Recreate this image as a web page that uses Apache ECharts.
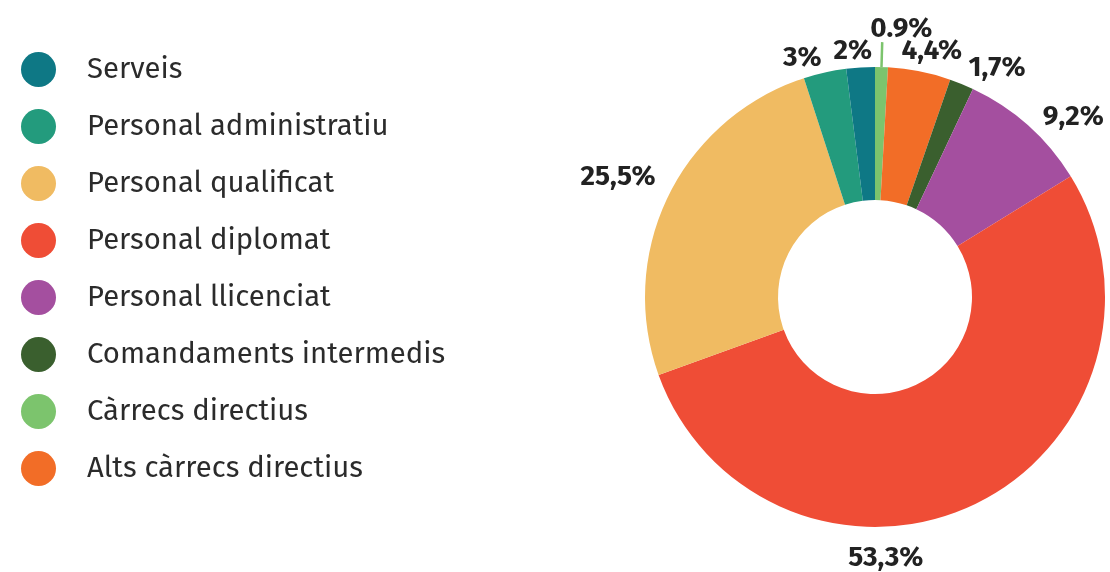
<!DOCTYPE html>
<html>
<head>
<meta charset="utf-8">
<script src="https://cdn.jsdelivr.net/npm/echarts@6/dist/echarts.min.js"></script>
<style>
html,body{margin:0;padding:0;background:#fff;}
#c{width:1110px;height:572px;}
</style>
</head>
<body>
<div id="c"></div>
<script>
// Slices in drawing order (clockwise from 12 o'clock)
const categories = ['Càrrecs directius','Alts càrrecs directius','Comandaments intermedis','Personal llicenciat','Personal diplomat','Personal qualificat','Personal administratiu','Serveis'];
const values = [0.9, 4.4, 1.7, 9.2, 53.3, 25.5, 3, 2];
const labels = ['0.9%','4,4%','1,7%','9,2%','53,3%','25,5%','3%','2%'];
const colors = ['#7cc46d','#f26d27','#3a5f2e','#a44f9f','#ef4d36','#f0bb62','#239b7d','#0e7885'];
// Legend order
const legendOrder = ['Serveis','Personal administratiu','Personal qualificat','Personal diplomat','Personal llicenciat','Comandaments intermedis','Càrrecs directius','Alts càrrecs directius'];

const labelShift = {0:[-17,-13],1:[-25,-10],2:[-2,-7],3:[3,-1],5:[1,-14],6:[4,-5],7:[17,-6]};

const chart = echarts.init(document.getElementById('c'), null, {renderer:'canvas'});
const data = categories.map((n,i)=>({
  name:n, value:values[i],
  itemStyle:{color:colors[i]},
  labelLine: i===0 ? {show:true, length:25, length2:0, lineStyle:{color:colors[0], width:2.5}} : {show:false}
}));
chart.setOption({
  animation:false,
  legend:{
    orient:'vertical', left:21, top:52, padding:0,
    data:legendOrder,
    icon:'circle', itemWidth:35, itemHeight:35, itemGap:22,
    textStyle:{fontFamily:'"Fira Sans","Noto Sans",sans-serif', fontSize:29.3, color:'#2b2b2b', padding:[0,0,0,26]},
    selectedMode:false
  },
  series:[{
    type:'pie',
    center:[875,297],
    radius:[97,230],
    startAngle:90,
    clockwise:true,
    avoidLabelOverlap:false,
    data:data,
    label:{
      show:true, position:'outside',
      formatter:p=>labels[p.dataIndex],
      fontFamily:'"Fira Sans","Noto Sans",sans-serif', fontWeight:'bold', fontSize:28, color:'#222'
    },
    labelLine:{show:false, length:10, length2:0},
    emphasis:{disabled:true},
    labelLayout:function(p){
      if(p.dataIndex===4){
        return {x:p.rect.x+p.rect.width/2+4, y:p.rect.y+p.rect.height+31, align:'center', verticalAlign:'middle'};
      }
      const s = labelShift[p.dataIndex];
      return s ? {dx:s[0], dy:s[1]} : {};
    }
  }]
});
</script>
</body>
</html>
